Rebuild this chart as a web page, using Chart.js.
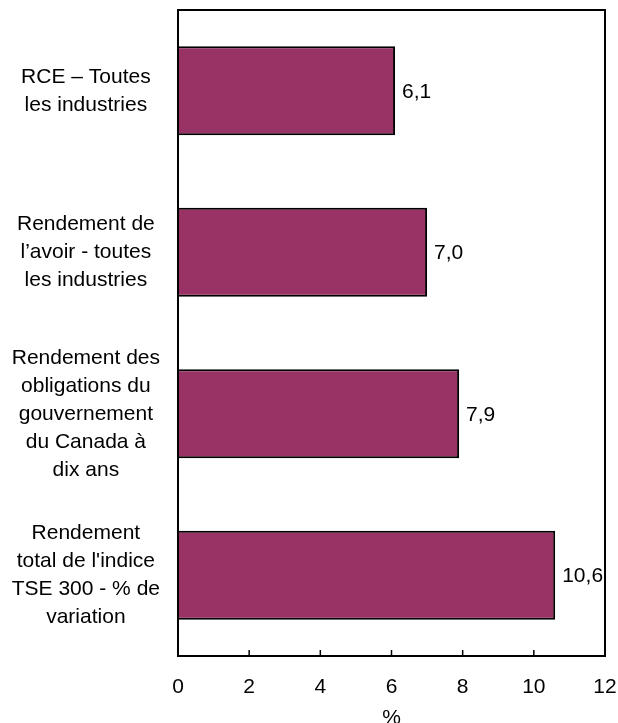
<!DOCTYPE html>
<html lang="fr">
<head>
<meta charset="utf-8">
<title>Rendements</title>
<script src="https://cdn.jsdelivr.net/npm/chart.js@4.4.0/dist/chart.umd.min.js"></script>
<style>
  html, body { margin: 0; padding: 0; background: #fff; }
  canvas { display: block; }
</style>
</head>
<body>
<canvas id="graphique" width="618" height="723"></canvas>
<script>
// Données du graphique
const categories = [
    ['RCE – Toutes', 'les industries'],
    ['Rendement de', 'l’avoir - toutes', 'les industries'],
    ['Rendement des', 'obligations du', 'gouvernement', 'du Canada à', 'dix ans'],
    ['Rendement', "total de l'indice", 'TSE 300 - % de', 'variation']
];
const values = [6.1, 7.0, 7.9, 10.6];
const xTickValues = [0, 2, 4, 6, 8, 10, 12];
const xTitle = '%';

const FONT = '"Liberation Sans", Arial, sans-serif';

// Format avec virgule décimale
const formatValue = v => v.toFixed(1).replace('.', ',');

/**
 * Cadre autour de la zone de tracé + petites graduations vers l'intérieur
 */
const cadrePlugin = {
    id: 'cadre',
    afterDraw(chart) {
        const { ctx, chartArea: a, scales: { x } } = chart;
        ctx.save();
        ctx.strokeStyle = '#000';
        ctx.lineWidth = 2;
        ctx.strokeRect(a.left, a.top, a.right - a.left, a.bottom - a.top);
        ctx.lineWidth = 1.5;
        xTickValues.forEach(v => {
            const px = x.getPixelForValue(v);
            ctx.beginPath();
            ctx.moveTo(px, a.bottom);
            ctx.lineTo(px, a.bottom - 6);
            ctx.stroke();
        });
        ctx.restore();
    }
};

/**
 * Étiquettes de valeur à droite des barres
 */
const etiquettesPlugin = {
    id: 'etiquettes',
    afterDatasetsDraw(chart) {
        const { ctx } = chart;
        const meta = chart.getDatasetMeta(0);
        ctx.save();
        ctx.fillStyle = '#000';
        ctx.font = '21px ' + FONT;
        ctx.textAlign = 'left';
        ctx.textBaseline = 'middle';
        meta.data.forEach((bar, i) => {
            ctx.fillText(formatValue(values[i]), bar.x + 7, bar.y + 1);
        });
        ctx.restore();
    }
};

new Chart(document.getElementById('graphique'), {
    type: 'bar',
    data: {
        labels: categories,
        datasets: [{
            data: values,
            backgroundColor: '#993366',
            borderColor: '#000',
            borderWidth: 2,
            categoryPercentage: 1,
            barPercentage: 0.55
        }]
    },
    options: {
        indexAxis: 'y',
        responsive: false,
        animation: false,
        layout: { padding: { top: 10, right: 13, bottom: 0, left: 0 } },
        plugins: {
            legend: { display: false },
            tooltip: { enabled: false }
        },
        scales: {
            x: {
                min: xTickValues[0],
                max: xTickValues[xTickValues.length - 1],
                grid: { display: false, drawTicks: false },
                border: { display: false },
                ticks: {
                    stepSize: 2,
                    padding: 19,
                    color: '#000',
                    maxRotation: 0,
                    font: { size: 21, family: FONT }
                },
                title: {
                    display: true,
                    text: xTitle,
                    color: '#000',
                    padding: 0,
                    font: { size: 21, family: FONT, lineHeight: '9px' }
                },
                afterFit(scale) {
                    scale.height = 67;
                    scale.paddingLeft = 0;
                    scale.paddingRight = 0;
                }
            },
            y: {
                grid: { display: false, drawTicks: false },
                border: { display: false },
                ticks: {
                    autoSkip: false,
                    crossAlign: 'center',
                    padding: 18,
                    color: '#000',
                    font: { size: 21, family: FONT, lineHeight: 1.333 }
                },
                afterFit(scale) {
                    scale.width = 178;
                    scale.paddingTop = 0;
                    scale.paddingBottom = 0;
                }
            }
        }
    },
    plugins: [cadrePlugin, etiquettesPlugin]
});
</script>
</body>
</html>
